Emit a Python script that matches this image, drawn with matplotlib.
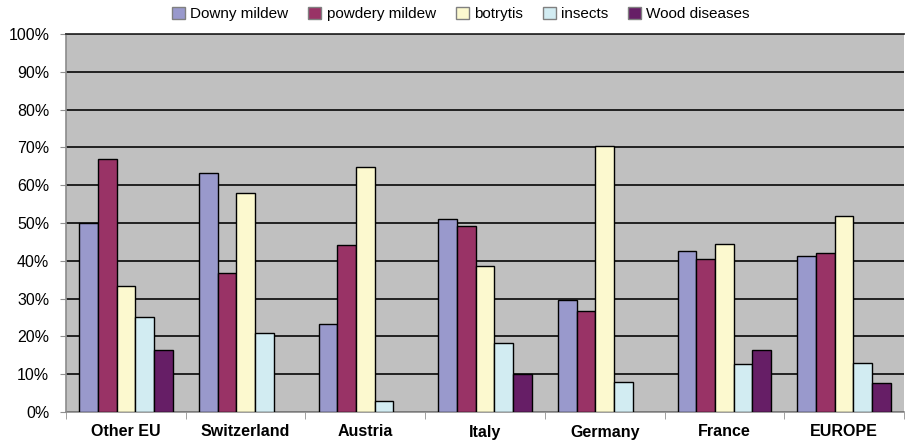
import numpy as np
import matplotlib
matplotlib.use('Agg')
import matplotlib.pyplot as plt
from matplotlib.ticker import FixedLocator, PercentFormatter

plt.rcParams['font.family'] = ['Liberation Sans', 'DejaVu Sans']

regions = ['Other EU', 'Switzerland', 'Austria', 'Italy', 'Germany', 'France', 'EUROPE']
series = ['Downy mildew', 'powdery mildew', 'botrytis', 'insects', 'Wood diseases']
downy = [50.0, 63.3, 23.4, 51.0, 29.6, 42.7, 41.3]
powdery = [66.9, 36.9, 44.2, 49.3, 26.8, 40.6, 42.1]
botrytis = [33.4, 58.0, 64.9, 38.7, 70.3, 44.5, 51.9]
insects = [25.1, 21.0, 2.9, 18.2, 7.9, 12.8, 13.0]
wood = [16.5, 0, 0, 10.1, 0, 16.5, 7.8]
colors = ['#9999cc', '#993366', '#fcf9cf', '#d2ecf2', '#661e66']

values = [downy, powdery, botrytis, insects, wood]

fig = plt.figure(figsize=(9.05, 4.42), dpi=100)
ax = fig.add_axes([66/905, 1-412/442, 838/905, 378/442])
ax.set_facecolor('#c0c0c0')

x = np.arange(len(regions))
w = 0.156
for i, (name, vals) in enumerate(zip(series, values)):
    vals = np.array(vals, dtype=float)
    vals[vals == 0] = np.nan  # no bar drawn for missing values
    ax.bar(x + (i - 2)*w, vals, w, color=colors[i], edgecolor='black',
           linewidth=1.0, label=name, zorder=3)

ax.set_xlim(-0.5, len(regions) - 0.5)
ax.set_ylim(0, 100)
ax.set_yticks(np.arange(0, 101, 10))
ax.yaxis.set_major_formatter(PercentFormatter(decimals=0))
ax.yaxis.grid(True, color='#151515', linewidth=1.3, zorder=1)
ax.set_axisbelow(True)

ax.set_xticks(x)
ax.set_xticklabels(regions, fontweight='bold', fontsize=11.5)
ax.xaxis.set_minor_locator(FixedLocator(np.arange(-0.5, len(regions), 1)))
ax.tick_params(axis='x', which='major', length=0, pad=9)
ax.tick_params(axis='x', which='minor', length=5, color='#909090', direction='out')
ax.tick_params(axis='y', length=4, color='#909090', labelsize=11.5, pad=8)

for s in ['left', 'bottom']:
    ax.spines[s].set_color('#8c8c8c')
    ax.spines[s].set_linewidth(1.2)
ax.spines['right'].set_visible(False)
ax.spines['top'].set_color('#303030')
ax.spines['top'].set_linewidth(1.3)

leg = fig.legend(loc='center', bbox_to_anchor=(461/905, 1-14/442), ncol=5, frameon=False,
                 fontsize=11, handlelength=0.85, handleheight=0.85, handletextpad=0.35,
                 columnspacing=1.3, borderaxespad=0)
for h in leg.legend_handles:
    h.set_edgecolor('#808080')

fig.savefig('out.png', dpi=100)
